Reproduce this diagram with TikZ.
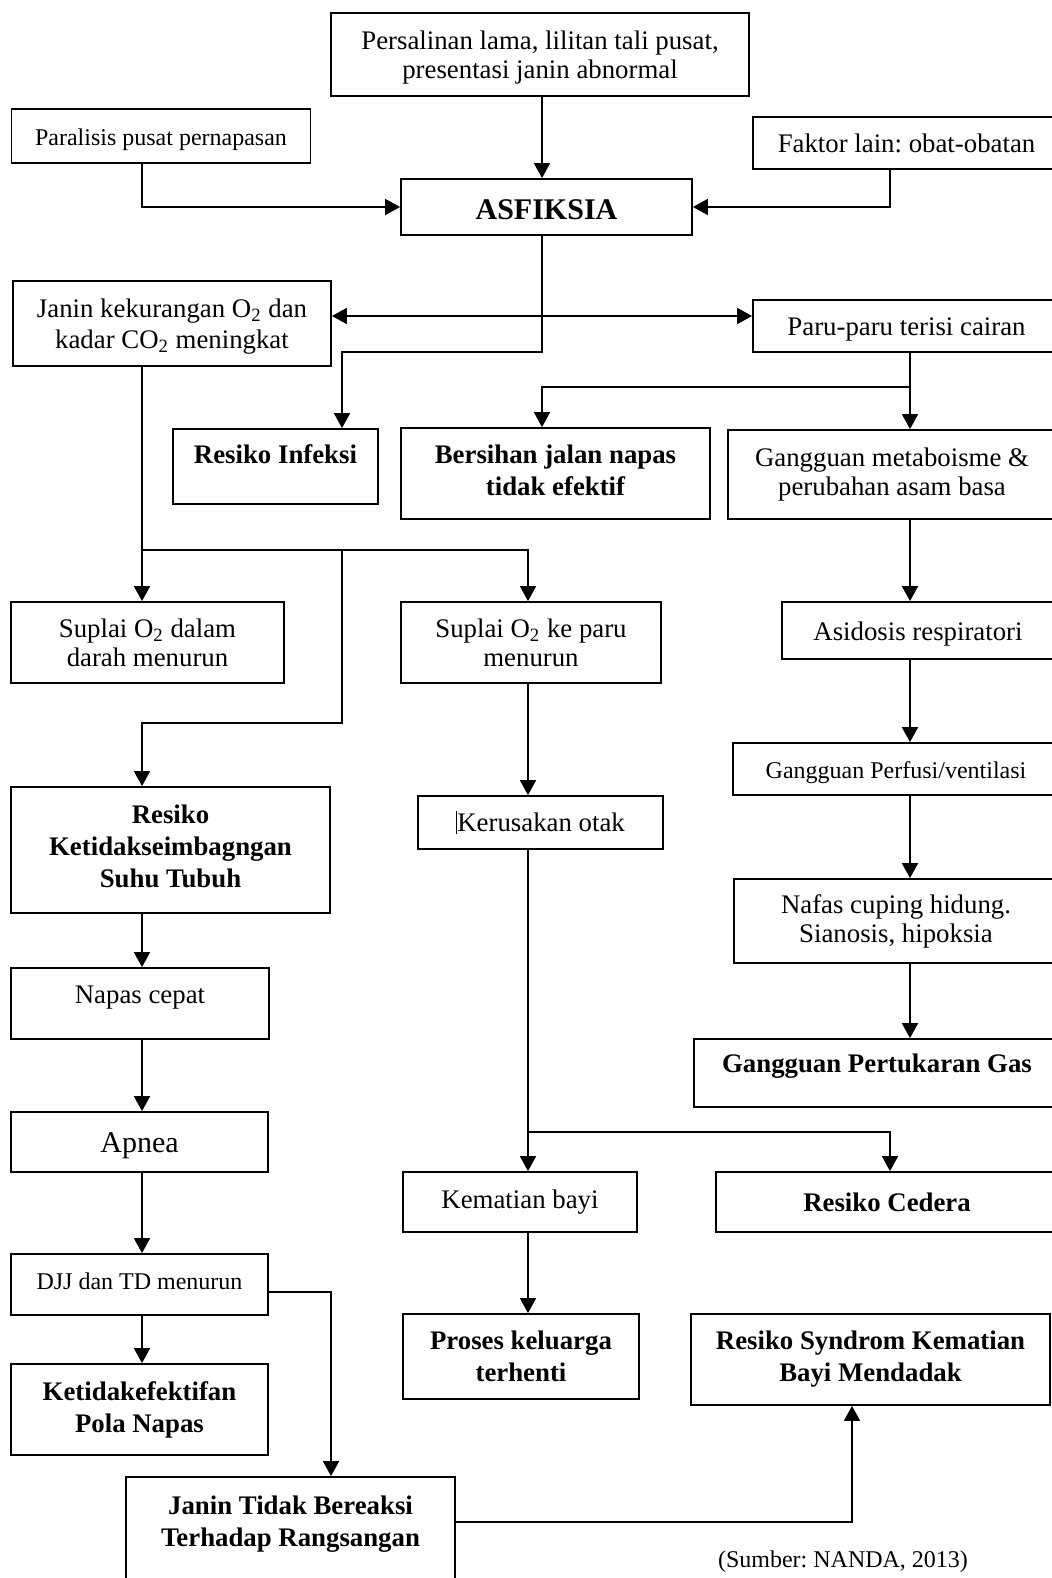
\documentclass[tikz,border=0pt]{standalone}
\usepackage{fontspec}
\setmainfont{Liberation Serif}
\usetikzlibrary{arrows.meta}
\frenchspacing
\newcommand{\Ot}{O\textsubscript{2}}

\begin{document}
\begin{tikzpicture}[x=0.5pt,y=-0.5pt,
  box/.style={draw,line width=0.9pt,align=center,inner sep=1pt,font=\fontsize{13.4}{14.5}\selectfont},
  bbox/.style={box,font=\fontsize{13.4}{16}\selectfont\bfseries},
  sbox/.style={box,font=\fontsize{12}{14}\selectfont},
  sz/.style 2 args={minimum width=#1,minimum height=#2},
  tx/.style 2 args={text height=#1,text depth=#2},
  ar/.style={line width=0.9pt,-{Triangle[length=7.5pt,width=8pt]}},
  dar/.style={line width=0.9pt,{Triangle[length=7.5pt,width=8pt]}-{Triangle[length=7.5pt,width=8pt]}},
  ln/.style={line width=0.9pt}]
\useasboundingbox (0,0) rectangle (1052,1578);
% columns of the connectors
\coordinate (lx) at (142,0); \coordinate (ix) at (342,0); \coordinate (jx) at (331,0);
\coordinate (mx) at (528,0); \coordinate (cx) at (542,0); \coordinate (sx) at (852,0);
\coordinate (fx) at (890,0); \coordinate (rx) at (910,0);
%------------- top
\node[box,sz={209pt}{41.5pt},text depth=-2pt] (pers) at (540,54.5) {Persalinan lama, lilitan tali pusat,\\presentasi janin abnormal};
\node[sbox,sz={149.5pt}{27pt},tx={12.3pt}{2.6pt}] (paral) at (161,136) {Paralisis pusat pernapasan};
\node[box,sz={153.5pt}{26pt}] (faktor) at (906.5,143) {Faktor lain: obat-obatan};
\node[box,sz={145.5pt}{28pt},tx={13pt}{0pt},font=\fontsize{15}{16}\selectfont\bfseries] (asf) at (546.5,207) {ASFIKSIA};
\draw[ar] (pers.south -| cx) -- (cx |- asf.north);
\draw[ar] (paral.south -| lx) |- (asf.west);
\draw[ar] (faktor.south -| fx) |- (asf.east);
%------------- second row
\node[box,sz={159pt}{42.5pt},text depth=0pt,font=\fontsize{13.4}{15.5}\selectfont] (janin) at (172,323.5) {Janin kekurangan \Ot{} dan\\kadar CO\textsubscript{2} meningkat};
\node[box,sz={153.5pt}{26pt},tx={12.3pt}{2.9pt}] (paru) at (906.5,326) {Paru-paru terisi cairan};
\draw[dar] ([yshift=3.75pt]janin.east) -- ([yshift=3.75pt]janin.east -| paru.west);
\node[bbox,sz={102.5pt}{37.5pt},tx={9pt}{12.5pt}] (infeksi) at (275.5,466.5) {Resiko Infeksi};
\node[bbox,sz={154.5pt}{45.5pt},text depth=3.5pt] (bers) at (555.5,473.5) {Bersihan jalan napas\\tidak efektif};
\node[box,sz={164pt}{44.5pt}] (gm) at (892,474.5) {Gangguan metaboisme \&\\perubahan asam basa};
\draw[ar] (asf.south -| cx) -- ++(0,116) -| (ix |- infeksi.north);
\draw[ln] (paru.south -| rx) -- ++(0,34) coordinate (pj);
\draw[ar] (pj) -| (cx |- bers.north);
\draw[ar] (pj) -- (rx |- gm.north);
%------------- left and middle branches
\node[box,sz={136.5pt}{40.5pt}] (sup1) at (147.5,642.5) {Suplai \Ot{} dalam\\darah menurun};
\node[box,sz={130pt}{40.5pt}] (sup2) at (531,642.5) {Suplai \Ot{} ke paru\\menurun};
\node[bbox,sz={159.5pt}{63pt},text depth=3.5pt] (rk) at (170.5,850) {Resiko\\Ketidakseimbagngan\\Suhu Tubuh};
\node[box,sz={122.5pt}{26.5pt}] (ker) at (540.5,822.5) {\rule[-1.5pt]{0.6pt}{11.5pt}Kerusakan otak};
\draw[ln] (janin.south -| lx) -- ++(0,183) coordinate (jj);
\draw[ar] (jj) -- (lx |- sup1.north);
\draw[ar] (jj) -| (mx |- sup2.north);
\draw[ar] (jj -| ix) -- ++(0,173) -| (lx |- rk.north);
\draw[ar] (sup2.south -| mx) -- (mx |- ker.north);
%------------- right column
\node[box,sz={136pt}{28.5pt},tx={13.3pt}{2.9pt}] (asid) at (918,630.5) {Asidosis respiratori};
\node[sbox,sz={163pt}{26pt},tx={12.3pt}{2.6pt}] (perf) at (896,769) {Gangguan Perfusi/ventilasi};
\node[box,sz={162pt}{42pt}] (nafas) at (896,921) {Nafas cuping hidung.\\Sianosis, hipoksia};
\node[bbox,sz={183pt}{34pt},tx={9pt}{10pt}] (gpg) at (877,1073) {Gangguan Pertukaran Gas};
\draw[ar] (gm.south -| rx) -- (rx |- asid.north);
\draw[ar] (asid.south -| rx) -- (rx |- perf.north);
\draw[ar] (perf.south -| rx) -- (rx |- nafas.north);
\draw[ar] (nafas.south -| rx) -- (rx |- gpg.north);
%------------- left column
\node[box,sz={129pt}{35.5pt},tx={9pt}{9.5pt}] (napas) at (140,1003.5) {Napas cepat};
\node[box,sz={128.5pt}{30pt},tx={14pt}{3.3pt},font=\fontsize{15}{16}\selectfont] (apnea) at (139.5,1142) {Apnea};
\node[sbox,sz={128.5pt}{30.5pt},tx={8.3pt}{3.5pt}] (djj) at (139.5,1284.5) {DJJ dan TD menurun};
\node[bbox,sz={128.5pt}{45.5pt}] (ketef) at (139.5,1409.5) {Ketidakefektifan\\Pola Napas};
\draw[ar] (rk.south -| lx) -- (lx |- napas.north);
\draw[ar] (napas.south -| lx) -- (lx |- apnea.north);
\draw[ar] (apnea.south -| lx) -- (lx |- djj.north);
\draw[ar] (djj.south -| lx) -- (lx |- ketef.north);
%------------- bottom
\node[box,sz={117pt}{30pt}] (kem) at (520,1202) {Kematian bayi};
\node[bbox,sz={171pt}{30pt}] (ced) at (887,1202) {Resiko Cedera};
\draw[ln] (ker.south -| mx) -- ++(0,282) coordinate (kj);
\draw[ar] (kj) -- (mx |- kem.north);
\draw[ar] (kj) -| (fx |- ced.north);
\node[bbox,sz={118pt}{42.5pt}] (proses) at (521,1356.5) {Proses keluarga\\terhenti};
\node[bbox,sz={179.5pt}{45.5pt}] (synd) at (870.5,1359.5) {Resiko Syndrom Kematian\\Bayi Mendadak};
\draw[ar] (kem.south -| mx) -- (mx |- proses.north);
\node[bbox,sz={164.5pt}{61.5pt},text depth=17.5pt] (jtb) at (290.5,1538.5) {Janin Tidak Bereaksi\\Terhadap Rangsangan};
\draw[ar] ([yshift=-3.75pt]djj.east) -| (jx |- jtb.north);
\draw[ar] ([yshift=8.25pt]jtb.east) -| (sx |- synd.south);
\node[font=\fontsize{12}{14}\selectfont] (src) at (843,1562) {(Sumber: NANDA, 2013)};
\end{tikzpicture}
\end{document}
